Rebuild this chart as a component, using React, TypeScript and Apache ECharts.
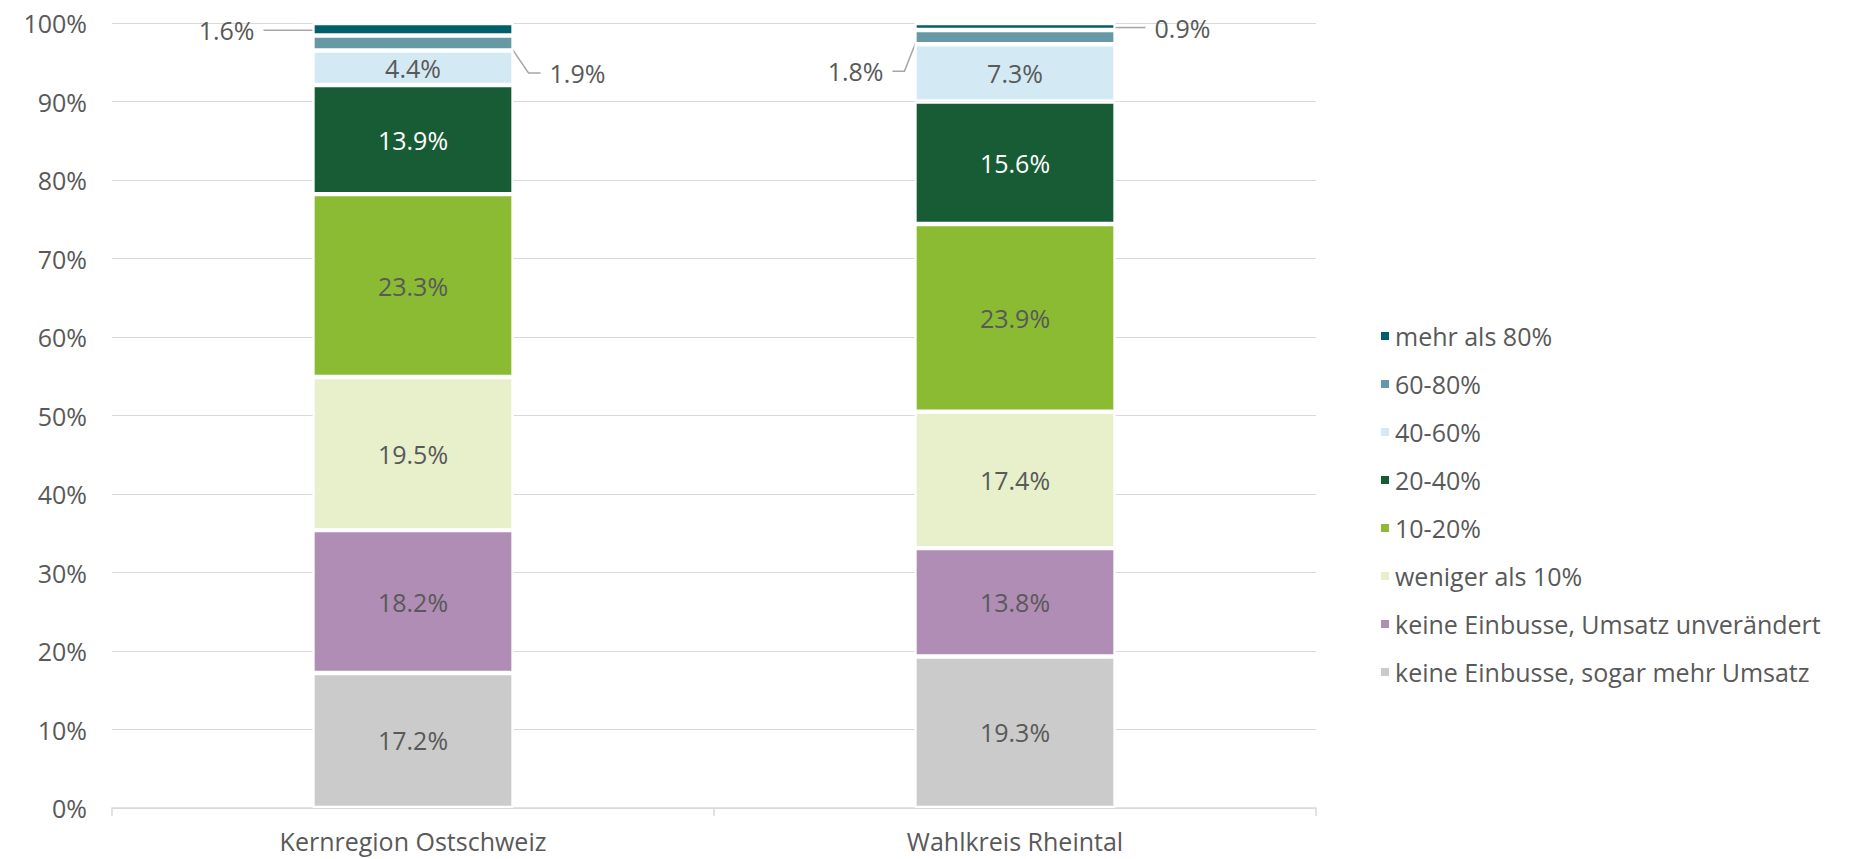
import React, { useEffect, useRef } from "react";
import * as echarts from "echarts";

const categories = ["Kernregion Ostschweiz", "Wahlkreis Rheintal"];
const seriesNames = [
  "keine Einbusse, sogar mehr Umsatz",
  "keine Einbusse, Umsatz unverändert",
  "weniger als 10%",
  "10-20%",
  "20-40%",
  "40-60%",
  "60-80%",
  "mehr als 80%",
];
const sogarMehrUmsatz = [17.2, 19.3];
const umsatzUnveraendert = [18.2, 13.8];
const wenigerAls10 = [19.5, 17.4];
const von10bis20 = [23.3, 23.9];
const von20bis40 = [13.9, 15.6];
const von40bis60 = [4.4, 7.3];
const von60bis80 = [1.9, 1.8];
const mehrAls80 = [1.6, 0.9];
const yTicks = [0, 10, 20, 30, 40, 50, 60, 70, 80, 90, 100];

const colors = [
  "#CBCBCB",
  "#AF8DB5",
  "#E8F0CB",
  "#8BBB33",
  "#175C35",
  "#D3E9F3",
  "#6699A6",
  "#005F6B",
];
const labelColors = [
  "#595959",
  "#595959",
  "#595959",
  "#595959",
  "#FFFFFF",
  "#595959",
  "#595959",
  "#595959",
];

const FONT = "'Open Sans', 'Noto Sans', sans-serif";
const TEXT = "#595959";

export default function App() {
  const ref = useRef<HTMLDivElement>(null);

  useEffect(() => {
    if (!ref.current) return;
    const chart = echarts.init(ref.current, null, { renderer: "svg" });
    const values = [
      sogarMehrUmsatz,
      umsatzUnveraendert,
      wenigerAls10,
      von10bis20,
      von20bis40,
      von40bis60,
      von60bis80,
      mehrAls80,
    ];
    const fmt = (p: any) => `${Number(p.value).toFixed(1)}%`;

    // outside labels for the thin segments: [position, distance, dy]
    const outside: Record<number, Array<[string, number, number]>> = {
      6: [
        ["right", 27, 30],
        ["left", 22, 34],
      ],
      7: [
        ["left", 49, 1],
        ["right", 30, 1],
      ],
    };

    const series = values.map((vals, si) => {
      const out = outside[si];
      const data = vals.map((v, di) => {
        if (out) {
          const [pos, dist] = out[di];
          return {
            value: v,
            label: {
              position: pos,
              distance: dist,
              color: TEXT,
              padding: [0, 9, 0, 9],
              backgroundColor: "rgba(255,255,255,0)",
            },
          };
        }
        return v;
      });
      const s: any = {
        name: seriesNames[si],
        type: "bar",
        stack: "total",
        barWidth: "33.4%",
        data,
        itemStyle: {
          color: colors[si],
          borderColor: "#FFFFFF",
          borderWidth: 2.2,
        },
        label: {
          show: true,
          position: "inside",
          formatter: fmt,
          fontSize: 25,
          fontFamily: FONT,
          color: labelColors[si],
        },
        emphasis: { disabled: true },
      };
      if (out) {
        s.labelLine = {
          show: true,
          length2: 12,
          lineStyle: { color: "#A6A6A6", width: 1.5 },
        };
        s.labelLayout = (p: any) => ({ dy: out[p.dataIndex][2] });
      }
      return s;
    });

    chart.setOption({
      animation: false,
      grid: { left: 112, right: 533, top: 23, bottom: 51 },
      xAxis: {
        type: "category",
        data: categories,
        axisLine: { lineStyle: { color: "#D9D9D9", width: 1.5 } },
        axisTick: { show: true, length: 8, lineStyle: { color: "#D9D9D9", width: 1.5 } },
        axisLabel: { fontSize: 25, fontFamily: FONT, color: TEXT, margin: 20 },
      },
      yAxis: {
        type: "value",
        min: yTicks[0],
        max: yTicks[yTicks.length - 1],
        interval: 10,
        axisLine: { show: false },
        axisTick: { show: false },
        axisLabel: {
          formatter: "{value}%",
          fontSize: 25,
          fontFamily: FONT,
          color: TEXT,
          margin: 25,
        },
        splitLine: { lineStyle: { color: "#D9D9D9", width: 1.2 } },
      },
      legend: {
        orient: "vertical",
        left: 1374,
        top: 316,
        icon: "rect",
        itemWidth: 10,
        itemHeight: 10,
        itemGap: 18,
        data: [...seriesNames].reverse(),
        selectedMode: false,
        textStyle: { fontSize: 25, fontFamily: FONT, color: TEXT, lineHeight: 30 },
      },
      series,
    });
    return () => chart.dispose();
  }, []);

  return (
    <div
      ref={ref}
      style={{ position: "fixed", left: 0, top: 0, width: 1849, height: 859, background: "#fff" }}
    />
  );
}
